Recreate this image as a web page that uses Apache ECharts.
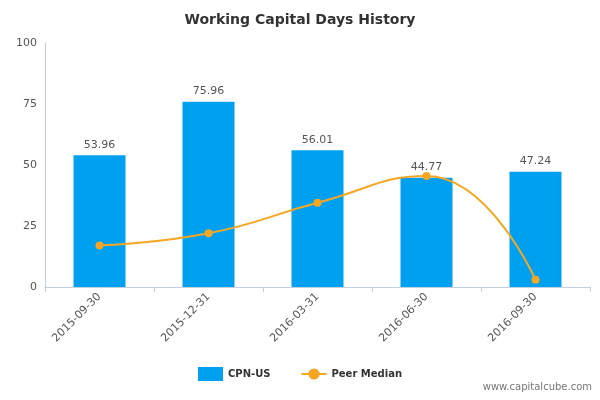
<!DOCTYPE html>
<html><head><meta charset="utf-8">
<script src="https://cdn.jsdelivr.net/npm/echarts@6/dist/echarts.min.js"></script>
<style>html,body{margin:0;padding:0;background:#fff}#c{width:600px;height:400px}</style>
</head><body><div id="c"></div>
<script>
const categories=['2015-09-30','2015-12-31','2016-03-31','2016-06-30','2016-09-30'];
const cpnValues=[53.96,75.96,56.01,44.77,47.24];
const peerValues=[17,22,34.5,45.5,3];
const yTicks=[0,25,50,75,100];
const chart=echarts.init(document.getElementById('c'));
chart.setOption({
  animation:false,
  textStyle:{fontFamily:'DejaVu Sans, sans-serif'},
  title:{text:'Working Capital Days History',left:'center',top:8,textStyle:{fontSize:14,fontWeight:'bold',color:'#333'}},
  graphic:[{type:'text',right:8,bottom:8,style:{text:'www.capitalcube.com',fontSize:10,fill:'#777',fontFamily:'DejaVu Sans'}}],
  legend:{bottom:14,left:'center',itemGap:30,textStyle:{fontSize:10,fontWeight:'bold',color:'#333'},
    data:[{name:'CPN-US',icon:'rect'},{name:'Peer Median'}]},
  grid:{left:45,right:10,top:43,bottom:113},
  xAxis:{type:'category',data:categories,
    axisLine:{lineStyle:{color:'#c0d0e0'}},axisTick:{show:true,lineStyle:{color:'#c0d0e0'}},
    axisLabel:{rotate:45,color:'#555',fontSize:11,interval:0}},
  yAxis:{type:'value',min:0,max:100,interval:25,
    axisLine:{show:true,lineStyle:{color:'#c0d0e0'}},splitLine:{show:false},
    axisLabel:{color:'#555',fontSize:11,formatter:v=>yTicks.includes(v)?String(v):''}},
  series:[
    {name:'CPN-US',type:'bar',data:cpnValues,barWidth:52,itemStyle:{color:'#00a0f0'},
      label:{show:true,position:'top',color:'#555',fontSize:11,formatter:p=>p.value.toFixed(2)}},
    {name:'Peer Median',type:'line',data:peerValues,smooth:true,symbol:'circle',symbolSize:8,
      itemStyle:{color:'#f5a623'},lineStyle:{color:'#f5a623',width:2}}
  ]
});
</script></body></html>
